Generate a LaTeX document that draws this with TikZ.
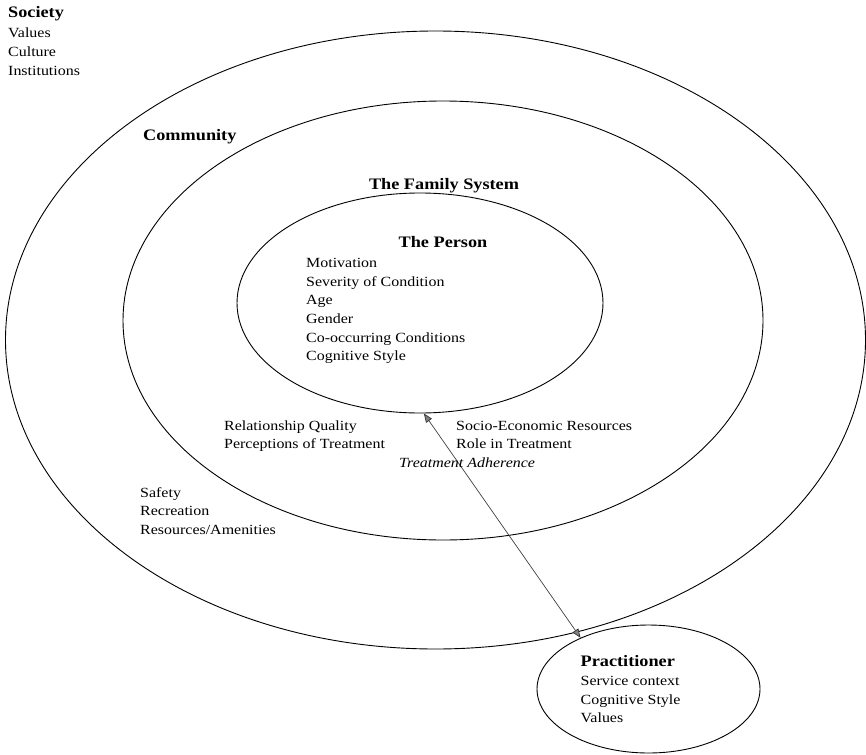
\documentclass[tikz,border=0pt]{standalone}
\usepackage{fontspec}
\setmainfont{Liberation Serif}[FakeStretch=1.14]
\usetikzlibrary{shapes.geometric,arrows.meta}
\begin{document}
\begin{tikzpicture}[x=1pt,y=-1pt,
  ring/.style={draw=black, line width=0.9pt, ellipse, inner sep=0pt},
  txt/.style={anchor=base west, inner sep=0pt, font=\fontsize{14}{17}\selectfont},
  itxt/.style={txt, font=\fontsize{14}{17}\selectfont\itshape},
  head/.style={anchor=base west, inner sep=0pt, font=\fontsize{16}{19}\selectfont\bfseries},
  headc/.style={anchor=base, inner sep=0pt, font=\fontsize{16}{19}\selectfont\bfseries},
  link/.style={draw=black!75, line width=0.7pt, {Triangle[length=9pt,width=7pt,fill=black!50,color=black!80]}-{Triangle[length=9pt,width=7pt,fill=black!50,color=black!80]}}]
\useasboundingbox (0,0) rectangle (866,754);

% ellipses
\node[ring, minimum width=860pt, minimum height=618pt] (community) at (435.5,340) {};
\node[ring, minimum width=640pt, minimum height=439pt] (family) at (443,320.5) {};
\node[ring, minimum width=366pt, minimum height=220pt] (person) at (420,303) {};
\node[ring, minimum width=223pt, minimum height=128pt] (pract) at (648.5,689) {};

% connector
\draw[link] (person.-88) -- (pract.143);

% Society
\node[head] (soc) at (8,18) {Society};
\node[txt] (soc1) at (8,38) {Values};
\node[txt] (soc2) at (8,56.7) {Culture};
\node[txt] (soc3) at (8,75.4) {Institutions};

% Community
\node[head] (comm) at (143,141) {Community};
\node[txt] (comm1) at (140,497) {Safety};
\node[txt] (comm2) at (140,515.7) {Recreation};
\node[txt] (comm3) at (140,534.4) {Resources/Amenities};

% Family
\node[headc] (fam) at (444,189) {The Family System};
\node[txt] (fam1) at (224,430) {Relationship Quality};
\node[txt] (fam2) at (224,448.7) {Perceptions of Treatment};
\node[txt] (fam3) at (456,430) {Socio-Economic Resources};
\node[txt] (fam4) at (456,448.7) {Role in Treatment};
\node[itxt] (adh) at (399,467) {Treatment Adherence};

% Person
\node[headc] (per) at (443,247.3) {The Person};
\node[txt] (per1) at (306,267.3) {Motivation};
\node[txt] (per2) at (306,286) {Severity of Condition};
\node[txt] (per3) at (306,304.7) {Age};
\node[txt] (per4) at (306,323.4) {Gender};
\node[txt] (per5) at (306,342.1) {Co-occurring Conditions};
\node[txt] (per6) at (306,360.8) {Cognitive Style};

% Practitioner
\node[head] (prac) at (580.5,666.7) {Practitioner};
\node[txt] (prac1) at (580.5,685.4) {Service context};
\node[txt] (prac2) at (580.5,704.1) {Cognitive Style};
\node[txt] (prac3) at (580.5,722.8) {Values};
\end{tikzpicture}
\end{document}
